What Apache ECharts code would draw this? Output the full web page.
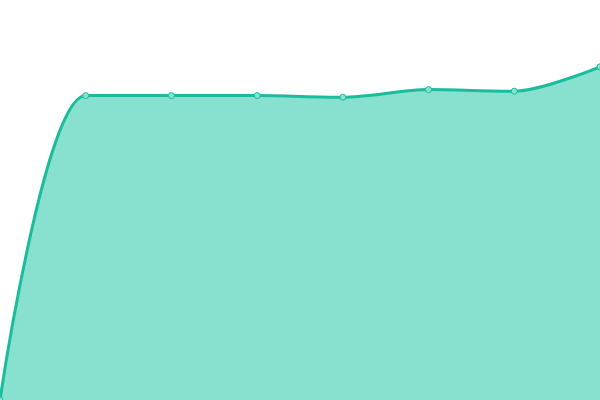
<!DOCTYPE html>
<html>
<head>
<meta charset="utf-8">
<script src="https://cdn.jsdelivr.net/npm/echarts@6/dist/echarts.min.js"></script>
<style>
  html, body { margin: 0; padding: 0; background: #fff; }
  #main { width: 600px; height: 400px; }
</style>
</head>
<body>
<div id="main"></div>
<script>
var categories = ['1', '2', '3', '4', '5', '6', '7', '8'];
var values = [0, 76.1, 76.1, 76.1, 75.7, 77.6, 77.2, 83.3];

var chartDom = document.getElementById('main');
var myChart = echarts.init(chartDom);
var option;

option = {
    animation: false,
    grid: {
        left: 0,
        right: 0,
        top: 0,
        bottom: 0
    },
    xAxis: {
        type: 'category',
        boundaryGap: false,
        show: false,
        data: categories
    },
    yAxis: {
        type: 'value',
        show: false,
        min: 0,
        max: 100
    },
    series: [{
        type: 'line',
        smooth: 0.3,
        data: values,
        symbol: 'circle',
        symbolSize: 6,
        lineStyle: {
            color: '#1abc9c',
            width: 3
        },
        itemStyle: {
            color: '#8be0cf',
            borderColor: '#1abc9c',
            borderWidth: 1
        },
        areaStyle: {
            color: '#88e0cf',
            opacity: 1
        }
    }]
};

option && myChart.setOption(option);
</script>
</body>
</html>
